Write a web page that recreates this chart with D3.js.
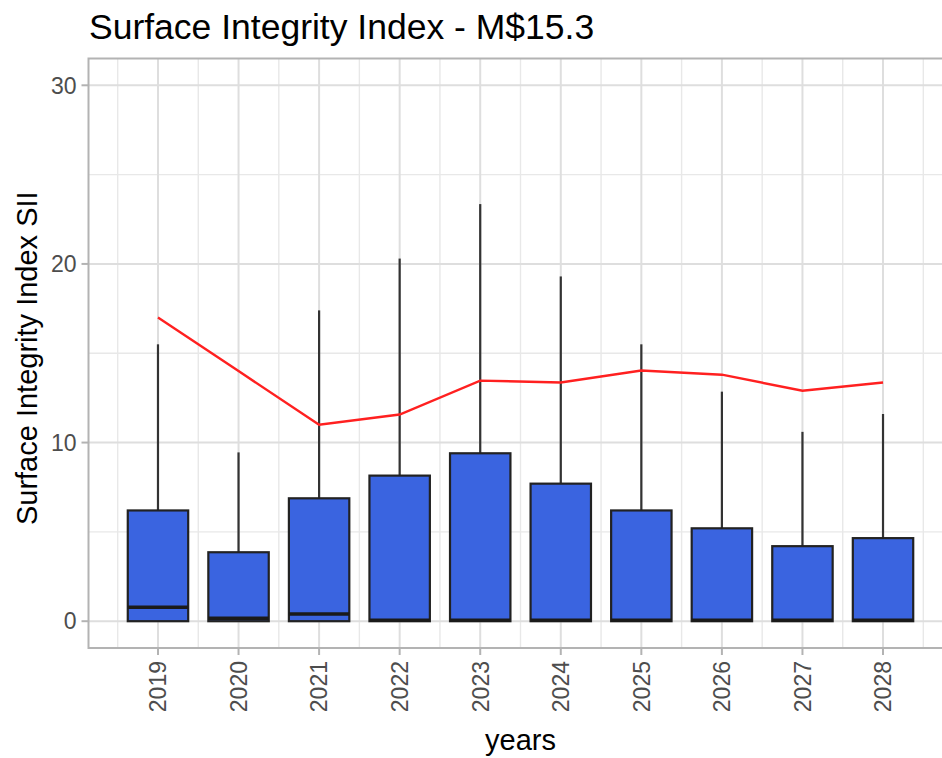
<!DOCTYPE html>
<html>
<head>
<meta charset="utf-8">
<script src="https://d3js.org/d3.v7.min.js"></script>
<style>
  body { margin: 0; background: #fff; }
  text { font-family: "Liberation Sans", Arial, sans-serif; }
</style>
</head>
<body>
<script>
// values
var years = [2019, 2020, 2021, 2022, 2023, 2024, 2025, 2026, 2027, 2028];
var lowerWhisker = [0, 0, 0, 0, 0, 0, 0, 0, 0, 0];
var q1 = [0, 0, 0, 0, 0, 0, 0, 0, 0, 0];
var medians = [0.78, 0.17, 0.4, 0.05, 0.05, 0.05, 0.05, 0.05, 0.05, 0.05];
var q3 = [6.2, 3.86, 6.88, 8.15, 9.4, 7.7, 6.2, 5.2, 4.2, 4.65];
var upperWhisker = [15.5, 9.45, 17.4, 20.3, 23.35, 19.3, 15.5, 12.85, 10.6, 11.6];
var means = [17.0, 14.0, 11.0, 11.57, 13.47, 13.36, 14.03, 13.8, 12.9, 13.36];
var yTicks = [0, 10, 20, 30];
var yMinor = [5, 15, 25];

var width = 942, height = 758;
var svg = d3.select("body").append("svg")
    .attr("width", width)
    .attr("height", height);

var pLeft = 88.5, pRight = 952.5, pTop = 58.5, pBottom = 648;

// continuous year axis, box width 0.75, ggplot style 5% expansion
var x = d3.scaleLinear().domain([2018.1375, 2028.8625]).range([pLeft, pRight]);
var y = d3.scaleLinear().domain([-1.5, 31.5]).range([pBottom, pTop]);

// minor grid
var xMinor = years.map(function (d) { return d - 0.5; }).concat([2028.5]);
svg.append("g").selectAll("line").data(xMinor).enter().append("line")
    .attr("x1", function (d) { return x(d); }).attr("x2", function (d) { return x(d); })
    .attr("y1", pTop).attr("y2", pBottom)
    .attr("stroke", "#e8e8e8").attr("stroke-width", 1.4);
svg.append("g").selectAll("line").data(yMinor).enter().append("line")
    .attr("x1", pLeft).attr("x2", pRight)
    .attr("y1", function (d) { return y(d); }).attr("y2", function (d) { return y(d); })
    .attr("stroke", "#e8e8e8").attr("stroke-width", 1.4);

// major grid
svg.append("g").selectAll("line").data(years).enter().append("line")
    .attr("x1", function (d) { return x(d); }).attr("x2", function (d) { return x(d); })
    .attr("y1", pTop).attr("y2", pBottom)
    .attr("stroke", "#dedede").attr("stroke-width", 2);
svg.append("g").selectAll("line").data(yTicks).enter().append("line")
    .attr("x1", pLeft).attr("x2", pRight)
    .attr("y1", function (d) { return y(d); }).attr("y2", function (d) { return y(d); })
    .attr("stroke", "#dedede").attr("stroke-width", 2);

// boxplots
var boxes = years.map(function (yr, i) {
    return {year: yr, lo: lowerWhisker[i], q1: q1[i], med: medians[i], q3: q3[i], hi: upperWhisker[i]};
});
var bw = x(2019.375) - x(2018.625);

var g = svg.append("g").selectAll("g").data(boxes).enter().append("g");
g.append("line")
    .attr("x1", function (d) { return x(d.year); }).attr("x2", function (d) { return x(d.year); })
    .attr("y1", function (d) { return y(d.q3); }).attr("y2", function (d) { return y(d.hi); })
    .attr("stroke", "#333").attr("stroke-width", 2.2);
g.append("rect")
    .attr("x", function (d) { return x(d.year) - bw / 2; })
    .attr("width", bw)
    .attr("y", function (d) { return y(d.q3); })
    .attr("height", function (d) { return y(d.q1) - y(d.q3); })
    .attr("fill", "#3a64e0")
    .attr("stroke", "#222").attr("stroke-width", 2.2);
g.append("line")
    .attr("x1", function (d) { return x(d.year) - bw / 2; })
    .attr("x2", function (d) { return x(d.year) + bw / 2; })
    .attr("y1", function (d) { return y(d.med); }).attr("y2", function (d) { return y(d.med); })
    .attr("stroke", "#1a1a1a").attr("stroke-width", 3.5);

// mean line
var line = d3.line()
    .x(function (d, i) { return x(years[i]); })
    .y(function (d) { return y(d); });
svg.append("path")
    .datum(means)
    .attr("d", line)
    .attr("fill", "none")
    .attr("stroke", "#ff2020")
    .attr("stroke-width", 2.4);

// panel border
svg.append("rect")
    .attr("x", pLeft).attr("y", pTop)
    .attr("width", pRight - pLeft).attr("height", pBottom - pTop)
    .attr("fill", "none").attr("stroke", "#b3b3b3").attr("stroke-width", 2);

// y axis
var yAxis = svg.append("g");
yAxis.selectAll("line").data(yTicks).enter().append("line")
    .attr("x1", pLeft - 7).attr("x2", pLeft)
    .attr("y1", function (d) { return y(d); }).attr("y2", function (d) { return y(d); })
    .attr("stroke", "#b3b3b3").attr("stroke-width", 2);
yAxis.selectAll("text").data(yTicks).enter().append("text")
    .attr("x", pLeft - 12)
    .attr("y", function (d) { return y(d); })
    .attr("dy", "0.36em")
    .attr("text-anchor", "end")
    .attr("fill", "#4d4d4d")
    .attr("font-size", 23)
    .text(function (d) { return d; });

// x axis
var xAxis = svg.append("g");
xAxis.selectAll("line").data(years).enter().append("line")
    .attr("x1", function (d) { return x(d); }).attr("x2", function (d) { return x(d); })
    .attr("y1", pBottom).attr("y2", pBottom + 7)
    .attr("stroke", "#b3b3b3").attr("stroke-width", 2);
xAxis.selectAll("text").data(years).enter().append("text")
    .attr("transform", function (d) { return "translate(" + x(d) + "," + (pBottom + 13) + ") rotate(-90)"; })
    .attr("dy", "0.36em")
    .attr("text-anchor", "end")
    .attr("fill", "#4d4d4d")
    .attr("font-size", 23)
    .text(function (d) { return d; });

// titles
svg.append("text")
    .attr("x", 89).attr("y", 39)
    .attr("font-size", 35.5)
    .attr("fill", "#000")
    .text("Surface Integrity Index - M$15.3");

svg.append("text")
    .attr("x", (pLeft + pRight) / 2).attr("y", 750)
    .attr("text-anchor", "middle")
    .attr("font-size", 29)
    .attr("fill", "#000")
    .text("years");

svg.append("text")
    .attr("transform", "translate(37," + ((pTop + pBottom) / 2 + 5) + ") rotate(-90)")
    .attr("text-anchor", "middle")
    .attr("font-size", 29)
    .attr("fill", "#000")
    .text("Surface Integrity Index SII");
</script>
</body>
</html>
